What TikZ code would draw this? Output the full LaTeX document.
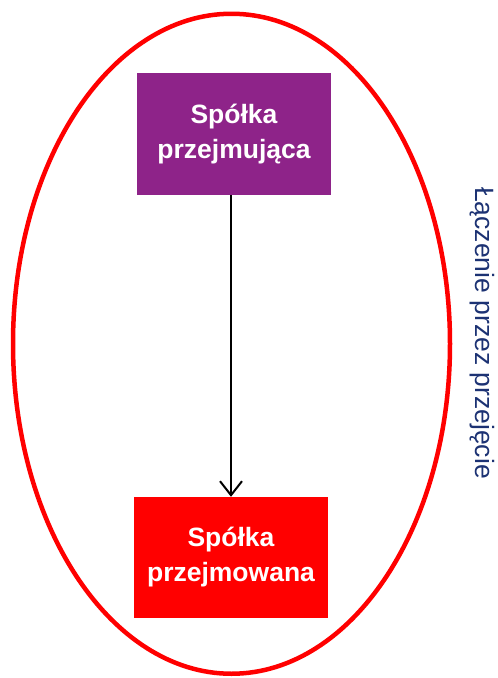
\documentclass[tikz,border=0pt]{standalone}
\usepackage{fontspec}
\setmainfont{Liberation Sans}
\usetikzlibrary{arrows.meta,positioning}

\definecolor{fiolet}{RGB}{142,35,137}
\definecolor{granat}{RGB}{28,50,115}
\tikzset{
  spolka/.style={minimum width=194pt, minimum height=122pt, inner sep=0pt,
    text=white, align=center, font=\fontsize{26.5}{35}\selectfont\bfseries},
  strzalka/.style={line width=2pt, -{Straight Barb[length=14pt,width=22pt,line width=2pt]}}
}

\begin{document}
\begin{tikzpicture}[x=1pt,y=-1pt]
		\useasboundingbox (0,0) rectangle (498,678);
		%\draw[help lines] (0,0) grid (498,678);

		\draw[red, line width=4.5pt] (231.5,343.75) ellipse [x radius=218.5, y radius=330];

		\node[spolka, fill=fiolet] (przejmujaca) at (234,134) {Spółka\\przejmująca};
		\node[spolka, fill=red, minimum height=121pt] (przejmowana) at (231,557.5) {Spółka\\przejmowana};

		\draw[strzalka] (przejmujaca.south -| przejmowana.north) -- (przejmowana.north);

		\node[rotate=-90, anchor=base, text=granat, font=\fontsize{26.5}{30}\selectfont] (tytul) at (475,333) {Łączenie przez przejęcie};
	\end{tikzpicture}
\end{document}
